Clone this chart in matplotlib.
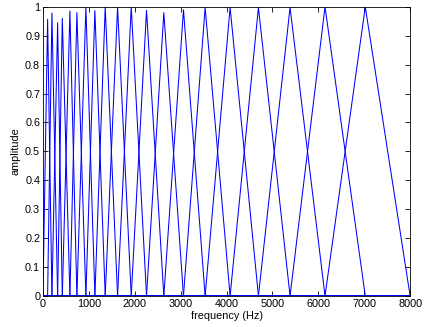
import matplotlib
matplotlib.use("Agg")
import matplotlib.pyplot as plt
import numpy as np

# filter centre frequencies (Hz) and peak heights
centers = [102, 196, 320, 422, 588, 740, 936, 1132, 1357, 1626,
           1924, 2257, 2634, 3062, 3534, 4078, 4695, 5384, 6146, 7023]
peaks = [0.957, 0.979, 0.945, 0.96, 0.986, 0.98, 1.0, 0.987, 1.0, 1.0,
         1.0, 0.988, 0.98, 0.99, 0.998, 0.998, 0.998, 0.998, 1.0, 1.0]
f_min, f_max = 0, 8000

plt.rcParams["font.family"] = ["Liberation Sans", "DejaVu Sans"]

fig = plt.figure(figsize=(4.25, 3.27), dpi=100)
ax = fig.add_axes([0.101, 0.095, 0.864, 0.884])

edges = [f_min] + centers + [f_max]
for i, (c, h) in enumerate(zip(centers, peaks)):
    lo, hi = edges[i], edges[i + 2]
    ax.plot([f_min, lo, c, hi, f_max], [0, 0, h, 0, 0],
            color=(0, 0, 1), lw=0.75)

ax.set_xlim(f_min, f_max)
ax.set_ylim(0, 1)
ax.set_xticks(np.arange(0, 8001, 1000))
ax.set_yticks(np.arange(0, 1.01, 0.1))
ax.set_yticklabels(["0", "0.1", "0.2", "0.3", "0.4", "0.5", "0.6", "0.7", "0.8", "0.9", "1"])
ax.tick_params(direction="in", top=True, right=True, labelsize=7.8, length=3.5, width=0.6, pad=2)
for s in ax.spines.values():
    s.set_linewidth(0.6)
ax.set_xlabel("frequency (Hz)", fontsize=7.8, labelpad=2)
ax.set_ylabel("amplitude", fontsize=7.8, labelpad=3)

fig.savefig("out.png", dpi=100)
